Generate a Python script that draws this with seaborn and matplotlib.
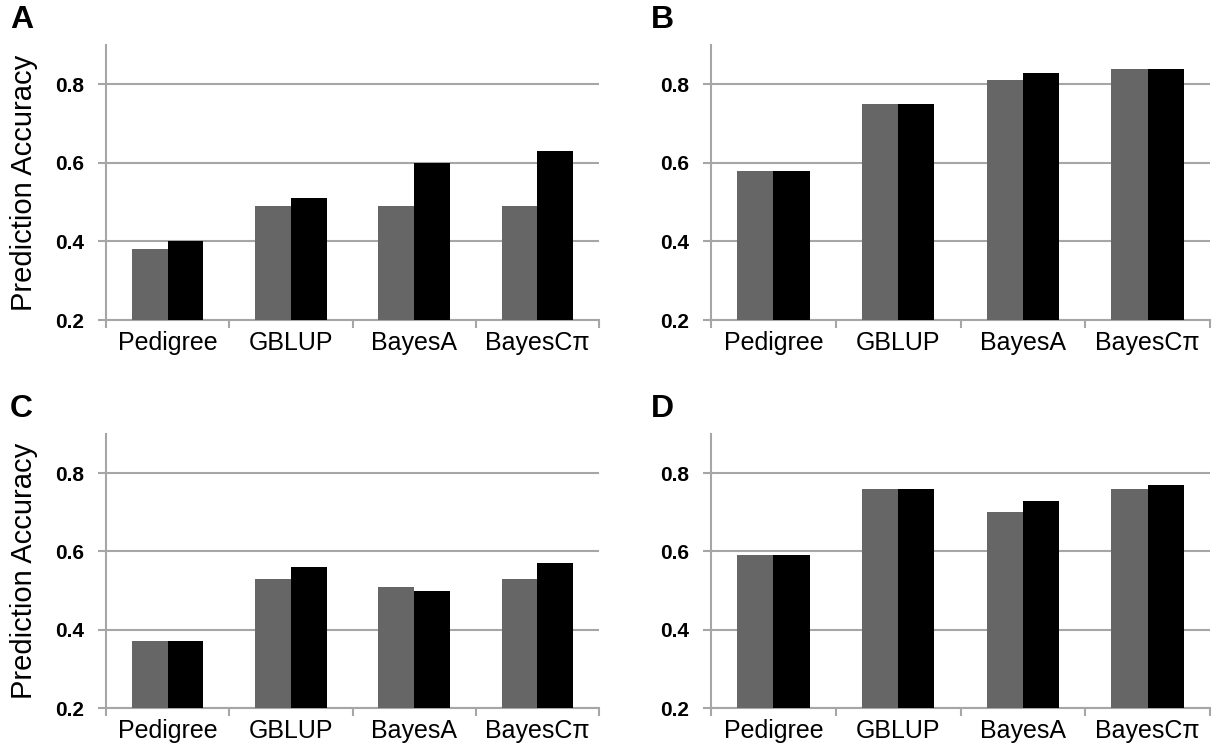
import pandas as pd
import matplotlib.pyplot as plt
import seaborn as sns

# Categorias (métodos) e valores de acurácia
metodos = ['Pedigree', 'GBLUP', 'BayesA', 'BayesCπ']
paineis = ['A', 'B', 'C', 'D']

# barras cinza (primeira série) e pretas (segunda série) de cada painel
cinza_A = [0.38, 0.49, 0.49, 0.49]
preto_A = [0.40, 0.51, 0.60, 0.63]
cinza_B = [0.58, 0.75, 0.81, 0.84]
preto_B = [0.58, 0.75, 0.83, 0.84]
cinza_C = [0.37, 0.53, 0.51, 0.53]
preto_C = [0.37, 0.56, 0.50, 0.57]
cinza_D = [0.59, 0.76, 0.70, 0.76]
preto_D = [0.59, 0.76, 0.73, 0.77]

yticks = [0.2, 0.4, 0.6, 0.8]

series = {
    'A': (cinza_A, preto_A),
    'B': (cinza_B, preto_B),
    'C': (cinza_C, preto_C),
    'D': (cinza_D, preto_D),
}

sns.set_style('white')
plt.rcParams['font.family'] = ['Liberation Sans', 'DejaVu Sans']
plt.rcParams['text.color'] = 'black'
plt.rcParams['axes.labelcolor'] = 'black'
plt.rcParams['xtick.color'] = 'black'
plt.rcParams['ytick.color'] = 'black'

W, H = 1212, 749
fig = plt.figure(figsize=(W / 100, H / 100), dpi=100)

# posições em pixels: (esquerda, direita, topo, base)
caixas = {
    'A': (106, 599, 45, 320),
    'B': (711, 1210, 45, 320),
    'C': (106, 599, 434, 708),
    'D': (711, 1210, 434, 708),
}

cor_grade = '#a6a6a6'


def montar_df(cinza, preto):
    linhas = []
    for m, v in zip(metodos, cinza):
        linhas.append({'metodo': m, 'serie': 'cinza', 'acc': v})
    for m, v in zip(metodos, preto):
        linhas.append({'metodo': m, 'serie': 'preto', 'acc': v})
    return pd.DataFrame(linhas)


for p in paineis:
    l, r, t, b = caixas[p]
    ax = fig.add_axes([l / W, 1 - b / H, (r - l) / W, (b - t) / H])
    df = montar_df(*series[p])
    sns.barplot(data=df, x='metodo', y='acc', hue='serie', order=metodos,
                hue_order=['cinza', 'preto'], palette=['#666666', '#000000'],
                width=0.58, gap=0, legend=False, saturation=1,
                edgecolor='none', ax=ax, zorder=3)

    ax.set_ylim(0.2, 0.9)
    ax.set_xlim(-0.5, 3.5)
    ax.set_yticks(yticks)
    ax.set_yticklabels([f'{v:.1f}' for v in yticks],
                       fontsize=15, fontweight='bold')
    ax.yaxis.grid(True, color=cor_grade, linewidth=1.5, zorder=0)
    ax.set_axisbelow(True)

    # marcas do eixo x entre as categorias
    ax.set_xticks([-0.5, 0.5, 1.5, 2.5, 3.5], minor=True)
    ax.tick_params(axis='x', which='major', bottom=True, length=0,
                   labelsize=18, pad=8)
    ax.tick_params(axis='x', which='minor', bottom=True, length=6, width=1.5,
                   color=cor_grade, direction='out')
    ax.tick_params(axis='y', left=True, length=6, width=1.5, color=cor_grade,
                   direction='out', pad=10)

    for lado in ['top', 'right']:
        ax.spines[lado].set_visible(False)
    for lado in ['left', 'bottom']:
        ax.spines[lado].set_color(cor_grade)
        ax.spines[lado].set_linewidth(1.5)

    ax.set_xlabel('')
    if p in ('A', 'C'):
        ax.set_ylabel('Prediction Accuracy', fontsize=21, labelpad=12)
    else:
        ax.set_ylabel('')

    # letra do painel
    fig.text((l - 96) / W if p in ('A', 'C') else (l - 60) / W,
             1 - (t - 10) / H, p, fontsize=23, fontweight='bold',
             ha='left', va='bottom')

plt.savefig('out.png', dpi=100)
plt.close()
